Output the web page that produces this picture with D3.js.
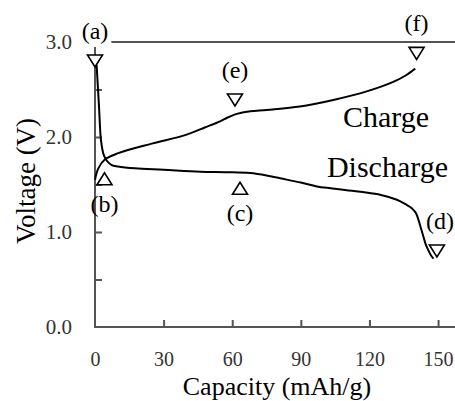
<!DOCTYPE html>
<html>
<head>
<meta charset="utf-8">
<script src="https://cdn.jsdelivr.net/npm/d3@7"></script>
<style>
  body { margin: 0; background: #fff; }
  svg { display: block; }
</style>
</head>
<body>
<div id="chart"></div>
<script>
// discharge curve (mAh/g, V)
const discharge_cap = [0.7, 1.75, 2.6, 3.6, 4.4, 5.5, 7.3, 10, 17.5, 30, 46, 58, 67.8, 75, 81, 90, 97, 103, 110, 117, 125, 132, 136, 138.5, 140.3, 141.4, 142.5, 143.6, 144.6, 145.7, 147, 148];
const discharge_v = [2.76, 2.32, 1.97, 1.83, 1.78, 1.74, 1.705, 1.69, 1.67, 1.655, 1.635, 1.63, 1.62, 1.595, 1.565, 1.52, 1.48, 1.46, 1.44, 1.42, 1.39, 1.34, 1.29, 1.25, 1.2, 1.13, 1.04, 0.95, 0.87, 0.81, 0.75, 0.72];

// charge curve
const charge_cap = [0, 1.45, 4.4, 10.2, 24.8, 39.4, 48, 54.7, 58, 61, 64, 68, 75, 89.6, 104.2, 118.8, 130.4, 136, 139.2, 140];
const charge_v = [1.55, 1.67, 1.765, 1.83, 1.93, 2.02, 2.10, 2.165, 2.205, 2.235, 2.255, 2.27, 2.285, 2.32, 2.39, 2.48, 2.58, 2.65, 2.705, 2.72];

// sampling points marked with triangles
const marker_labels = ["(a)", "(b)", "(c)", "(d)", "(e)", "(f)"];
const marker_cap = [0, 4.15, 63.4, 149.5, 61.2, 140.6];
const marker_v = [2.80, 1.56, 1.46, 0.80, 2.39, 2.88];
const marker_dir = ["down", "up", "up", "down", "down", "down"];

const x_ticks = [0, 30, 60, 90, 120, 150];
const y_ticks = [0, 0.5, 1.0, 1.5, 2.0, 2.5, 3.0];

const width = 455, height = 401;
const font = "'Liberation Serif', 'Times New Roman', serif";

const x = d3.scaleLinear().domain([0, 157.4]).range([95, 455]);
const y = d3.scaleLinear().domain([0, 3]).range([327, 42]);

const svg = d3.select("#chart").append("svg")
    .attr("width", width)
    .attr("height", height)
    .style("background", "#fff");

const axis_color = "#555";

// x axis
const gx = svg.append("g")
    .attr("transform", `translate(0,${y(0)})`)
    .call(d3.axisBottom(x).tickValues(x_ticks).tickSizeInner(-7).tickSizeOuter(0).tickPadding(25)
        .tickFormat(d3.format("d")));
gx.select(".domain").remove();
gx.selectAll(".tick line").attr("stroke", axis_color).attr("stroke-width", 2)
    .filter(d => d == 0).remove();
gx.selectAll(".tick text").attr("fill", "#333")
    .style("font-family", font).style("font-size", "20px");
svg.append("line")
    .attr("x1", x(0)).attr("x2", width)
    .attr("y1", y(0)).attr("y2", y(0))
    .attr("stroke", axis_color).attr("stroke-width", 2);

// y axis
const gy = svg.append("g")
    .attr("transform", `translate(${x(0)},0)`)
    .call(d3.axisLeft(y).tickValues(y_ticks).tickSizeInner(-7).tickSizeOuter(0).tickPadding(23)
        .tickFormat(d => d % 1 == 0 ? d.toFixed(1) : ""));
gy.select(".domain").remove();
gy.selectAll(".tick line").attr("stroke", axis_color).attr("stroke-width", 2)
    .filter(d => d == 0).remove();
gy.selectAll(".tick text").attr("fill", "#333")
    .style("font-family", font).style("font-size", "21px");
svg.append("line")
    .attr("x1", x(0)).attr("x2", x(0))
    .attr("y1", y(0) + 1).attr("y2", y(3))
    .attr("stroke", axis_color).attr("stroke-width", 2);

// 3.0 V cut-off line
svg.append("line")
    .attr("x1", x(0)).attr("x2", width)
    .attr("y1", y(3)).attr("y2", y(3))
    .attr("stroke", axis_color).attr("stroke-width", 2);

// axis titles
svg.append("text")
    .attr("x", 277).attr("y", 395)
    .attr("text-anchor", "middle")
    .style("font-family", font).style("font-size", "26px")
    .text("Capacity (mAh/g)");
svg.append("text")
    .attr("transform", "translate(35,181) rotate(-90)")
    .attr("text-anchor", "middle")
    .style("font-family", font).style("font-size", "27px")
    .text("Voltage (V)");

// marker labels, (a) gets a white box that hides the line ends behind it
const labels = svg.append("g");
for(let i=0;i<marker_labels.length;i++) {
    let dy = marker_dir[i] == "down" ? -22 : 33;
    let dx = marker_labels[i] == "(d)" ? 3 : 0;
    let g = labels.append("g");
    let t = g.append("text")
        .attr("x", x(marker_cap[i]) + dx)
        .attr("y", y(marker_v[i]) + dy)
        .attr("text-anchor", "middle")
        .style("font-family", font).style("font-size", "24px")
        .text(marker_labels[i]);
    if(i == 0) {
        let b = t.node().getBBox();
        g.insert("rect", "text")
            .attr("x", b.x - 3).attr("y", b.y - 3)
            .attr("width", b.width + 6).attr("height", b.height + 6)
            .attr("fill", "#fff");
    }
}

// curves
const line = d3.line().x(d => x(d[0])).y(d => y(d[1])).curve(d3.curveCatmullRom);
const dis_data = discharge_cap.map((c, i) => [c, discharge_v[i]]);
const ch_data = charge_cap.map((c, i) => [c, charge_v[i]]);
svg.append("path").datum(dis_data)
    .attr("d", line)
    .attr("fill", "none").attr("stroke", "#000").attr("stroke-width", 2);
svg.append("path").datum(ch_data)
    .attr("d", line)
    .attr("fill", "none").attr("stroke", "#000").attr("stroke-width", 2);

// curve names
svg.append("text")
    .attr("x", x(108.4)).attr("y", y(2.105))
    .style("font-family", font).style("font-size", "30px")
    .text("Charge");
svg.append("text")
    .attr("x", x(101.4)).attr("y", y(1.58))
    .style("font-family", font).style("font-size", "30px")
    .text("Discharge");

// triangle markers
for(let i=0;i<marker_cap.length;i++) {
    let cx = x(marker_cap[i]), cy = y(marker_v[i]);
    let s = marker_dir[i] == "down" ? 1 : -1;
    let pts = [[cx - 7.5, cy - 6 * s], [cx + 7.5, cy - 6 * s], [cx, cy + 6 * s]];
    svg.append("path")
        .attr("d", "M" + pts.map(p => p.join(",")).join("L") + "Z")
        .attr("fill", "#fff")
        .attr("stroke", "#000")
        .attr("stroke-width", 1.6);
}
</script>
</body>
</html>
